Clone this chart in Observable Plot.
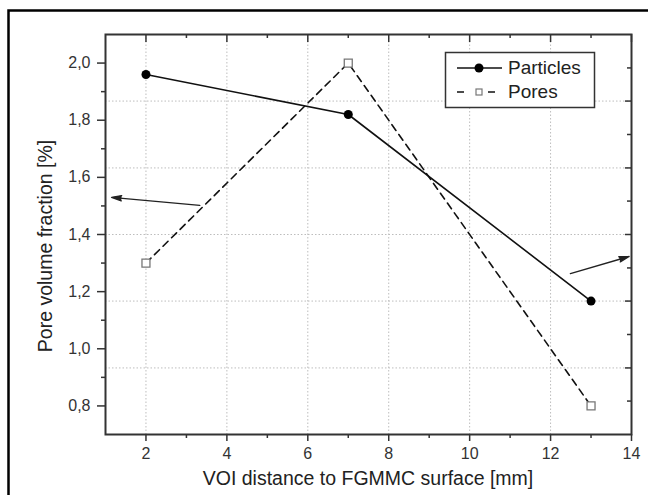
<!DOCTYPE html>
<html>
<head>
<meta charset="utf-8">
<script src="https://cdn.jsdelivr.net/npm/d3@7"></script>
<script src="https://cdn.jsdelivr.net/npm/@observablehq/plot@0.6"></script>
<style>
  html, body { margin: 0; padding: 0; background: #fff; }
  #chart svg { display: block; }
</style>
</head>
<body>
<div id="chart"></div>
<script>
// ---- data ----
const distance = [2, 7, 13];
const particles = [1.96, 1.82, 1.167];
const pores = [1.30, 2.00, 0.80];
const seriesNames = ["Particles", "Pores"];

const xMajor = [2, 4, 6, 8, 10, 12, 14];
const xMinor = [3, 5, 7, 9, 11, 13];
const xGrid = [2, 4, 6, 8, 10, 12];
const yMajor = [0.8, 1.0, 1.2, 1.4, 1.6, 1.8, 2.0];
const yMinor = [0.9, 1.1, 1.3, 1.5, 1.7, 1.9];
const rightMajor = [0.933, 1.167, 1.4, 1.633, 1.867];
const rightMinor = [0.817, 1.05, 1.283, 1.517, 1.75, 1.983];

// annotation arrows: [x1, y1, x2, y2]
const arrowLeft = [3.33, 1.502, 1.15, 1.53];
const arrowRight = [12.49, 1.263, 13.94, 1.323];

const xTitle = "VOI distance to FGMMC surface [mm]";
const yTitle = "Pore volume fraction [%]";

// ---- tables ----
const partData = distance.map((x, i) => ({x, y: particles[i]}));
const poreData = distance.map((x, i) => ({x, y: pores[i]}));
const arrows = [arrowLeft, arrowRight].map(a => ({x1: a[0], y1: a[1], x2: a[2], y2: a[3]}));

const W = 648, H = 495;
const mL = 105, mR = 17, mT = 34, mB = 61;
const ink = "#333";
const font = "Arial, 'Liberation Sans', sans-serif";
const xMin = 1, yMin = 0.7;

const chart = Plot.plot({
  width: W, height: H,
  marginLeft: mL, marginRight: mR, marginTop: mT, marginBottom: mB,
  style: {fontFamily: font, color: ink, background: "#fff"},
  x: {domain: [xMin, 14]},
  y: {domain: [yMin, 2.1]},
  marks: [
    Plot.gridX(xGrid, {stroke: "#bdbdbd", strokeOpacity: 1, strokeDasharray: "1.5,2"}),
    Plot.gridY(rightMajor, {stroke: "#bdbdbd", strokeOpacity: 1, strokeDasharray: "1.5,2"}),
    Plot.line(poreData, {x: "x", y: "y", stroke: "#111", strokeWidth: 1.6, strokeDasharray: "7,5"}),
    Plot.line(partData, {x: "x", y: "y", stroke: "#111", strokeWidth: 1.6}),
    Plot.dot(poreData, {x: "x", y: "y", symbol: "square", r: 4.5, fill: "#fff", stroke: "#777", strokeWidth: 1.3}),
    Plot.dot(partData, {x: "x", y: "y", r: 4.5, fill: "#000"}),
    Plot.arrow(arrows, {x1: "x1", y1: "y1", x2: "x2", y2: "y2", stroke: "#222", strokeWidth: 1.4, headLength: 11, headAngle: 30}),
    // top inward ticks
    Plot.tickX(xMajor, {x: d => d, stroke: ink, strokeWidth: 1.5, insetBottom: H - mT - mB - 8}),
    Plot.tickX(xMinor, {x: d => d, stroke: ink, strokeWidth: 1.5, insetBottom: H - mT - mB - 4}),
    // right inward ticks
    Plot.tickY(rightMajor, {y: d => d, stroke: ink, strokeWidth: 1.5, insetLeft: W - mL - mR - 6}),
    Plot.tickY(rightMinor, {y: d => d, stroke: ink, strokeWidth: 1.5, insetLeft: W - mL - mR - 4}),
    // bottom axis ticks
    Plot.axisX(xMajor, {anchor: "bottom", tickSize: 7, strokeWidth: 1.5, label: null, text: null}),
    Plot.axisX(xMinor, {anchor: "bottom", tickSize: 4, strokeWidth: 1.5, label: null, text: null}),
    // left axis ticks
    Plot.axisY(yMajor, {anchor: "left", tickSize: 8, strokeWidth: 1.5, label: null, text: null}),
    Plot.axisY(yMinor, {anchor: "left", tickSize: 4, strokeWidth: 1.5, label: null, text: null}),
    // tick labels
    Plot.text(xMajor, {x: d => d, y: yMin, dy: 19, text: d => String(d), fontSize: 16, fill: ink, textAnchor: "middle"}),
    Plot.text(yMajor, {x: xMin, y: d => d, dx: -15, text: d => d.toFixed(1).replace(".", ","), fontSize: 16, fill: ink, textAnchor: "end"}),
    Plot.frame({stroke: ink, strokeWidth: 2})
  ]
});

document.getElementById("chart").appendChild(chart);
const svg = d3.select(chart);

// filled arrowheads (the open chevron closes into a triangle when filled)
svg.selectAll('g[aria-label="arrow"] path').style("fill", "#222");

// outer border (top & left visible)
svg.append("path").attr("d", "M8.5,500 V10.5 H660").attr("fill", "none").attr("stroke", "#000").attr("stroke-width", 2.5);

// axis titles
svg.append("text").attr("x", (mL + W - mR) / 2).attr("y", 485)
  .attr("text-anchor", "middle").style("font-size", "19.5px").attr("font-family", font).attr("fill", "#222")
  .text(xTitle);
svg.append("text").attr("transform", "translate(52,246) rotate(-90)")
  .attr("text-anchor", "middle").style("font-size", "19.5px").attr("font-family", font).attr("fill", "#222")
  .text(yTitle);

// legend
const lg = svg.append("g");
lg.append("rect").attr("x", 445.5).attr("y", 52.5).attr("width", 149).attr("height", 55)
  .attr("fill", "#fff").attr("stroke", ink).attr("stroke-width", 1.5);
lg.append("line").attr("x1", 457).attr("x2", 502).attr("y1", 68).attr("y2", 68).attr("stroke", "#111").attr("stroke-width", 1.6);
lg.append("circle").attr("cx", 479).attr("cy", 68).attr("r", 4.5).attr("fill", "#000");
lg.append("line").attr("x1", 457).attr("x2", 502).attr("y1", 92).attr("y2", 92).attr("stroke", "#111").attr("stroke-width", 1.6).attr("stroke-dasharray", "7,24,7");
lg.append("rect").attr("x", 476).attr("y", 89).attr("width", 6).attr("height", 6).attr("fill", "#fff").attr("stroke", "#777").attr("stroke-width", 1.2);
lg.append("text").attr("x", 508).attr("y", 74).attr("text-anchor", "start").style("font-size", "19px").attr("font-family", font).attr("fill", "#222").text(seriesNames[0]);
lg.append("text").attr("x", 508).attr("y", 98).attr("text-anchor", "start").style("font-size", "19px").attr("font-family", font).attr("fill", "#222").text(seriesNames[1]);
</script>
</body>
</html>
